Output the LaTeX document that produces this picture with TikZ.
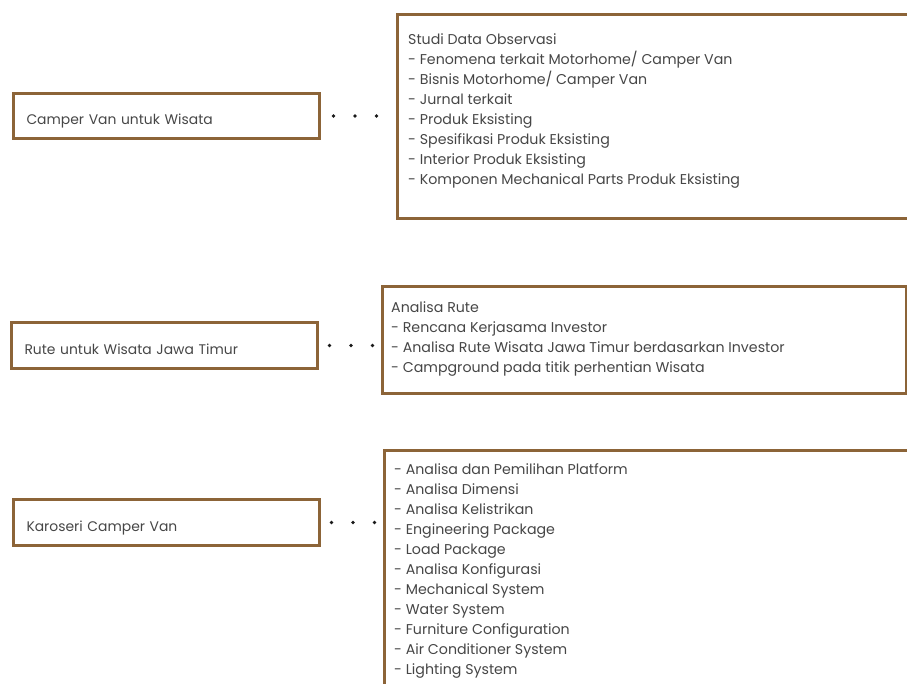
\documentclass[tikz,border=0pt]{standalone}
\usepackage{fontspec}
\setmainfont{Poppins}
\usetikzlibrary{calc}
\definecolor{brownline}{RGB}{140,100,56}
\definecolor{txt}{RGB}{70,70,70}
\tikzset{
  leftbox/.style={draw=brownline, line width=3pt, minimum width=306pt, minimum height=45.5pt,
    inner xsep=10pt, inner ysep=0pt, text width=280pt, align=left, text=txt,
    text height=18pt, text depth=0pt,
    font=\fontsize{13.9}{20}\selectfont},
  rightbox/.style={draw=brownline, line width=3pt, inner sep=0pt},
  listtext/.style={anchor=north west, inner sep=0pt, align=left, text=txt,
    font=\fontsize{14.2}{20}\selectfont},
  dotmark/.style={circle, fill=black!90, inner sep=0pt, minimum size=3.6pt}
}
\begin{document}
\begin{tikzpicture}[x=1pt,y=-1pt]
\useasboundingbox (0,0) rectangle (907,684);
% left boxes
\node[leftbox] (l1) at (166.5,116) {Camper Van untuk Wisata};
\node[leftbox] (l2) at (164.5,345.5) {Rute untuk Wisata Jawa Timur};
\node[leftbox] (l3) at (166.5,522.5) {Karoseri Camper Van};
% right boxes
\node[rightbox, minimum width=524.5pt, minimum height=204pt, anchor=north west] (r1) at (395.5,13.5) {};
\node[rightbox, minimum width=524pt, minimum height=106.5pt, anchor=north west] (r2) at (380.5,285.5) {};
\node[rightbox, minimum width=524pt, minimum height=260pt, anchor=north west] (r3) at (382.5,448.5) {};
% texts
\node[listtext] (t1) at (408,33.5) {Studi Data Observasi\\
- Fenomena terkait Motorhome/ Camper Van\\
- Bisnis Motorhome/ Camper Van\\
- Jurnal terkait\\
- Produk Eksisting\\
- Spesifikasi Produk Eksisting\\
- Interior Produk Eksisting\\
- Komponen Mechanical Parts Produk Eksisting};
\node[listtext] (t2) at (391,301.2) {Analisa Rute\\
- Rencana Kerjasama Investor\\
- Analisa Rute Wisata Jawa Timur berdasarkan Investor\\
- Campground pada titik perhentian Wisata};
\node[listtext] (t3) at (394,463.5) {- Analisa dan Pemilihan Platform\\
- Analisa Dimensi\\
- Analisa Kelistrikan\\
- Engineering Package\\
- Load Package\\
- Analisa Konfigurasi\\
- Mechanical System\\
- Water System\\
- Furniture Configuration\\
- Air Conditioner System\\
- Lighting System};
% dotted connectors
\foreach \i/\d in {1/12.5, 2/10.5, 3/10.5}{
  \node[dotmark] (d\i a) at ($(l\i.east)+(\d,0)$) {};
  \node[dotmark] (d\i b) at ($(l\i.east)+(\d+21.5,0)$) {};
  \node[dotmark] (d\i c) at ($(l\i.east)+(\d+43,0)$) {};
}
\end{tikzpicture}
\end{document}
